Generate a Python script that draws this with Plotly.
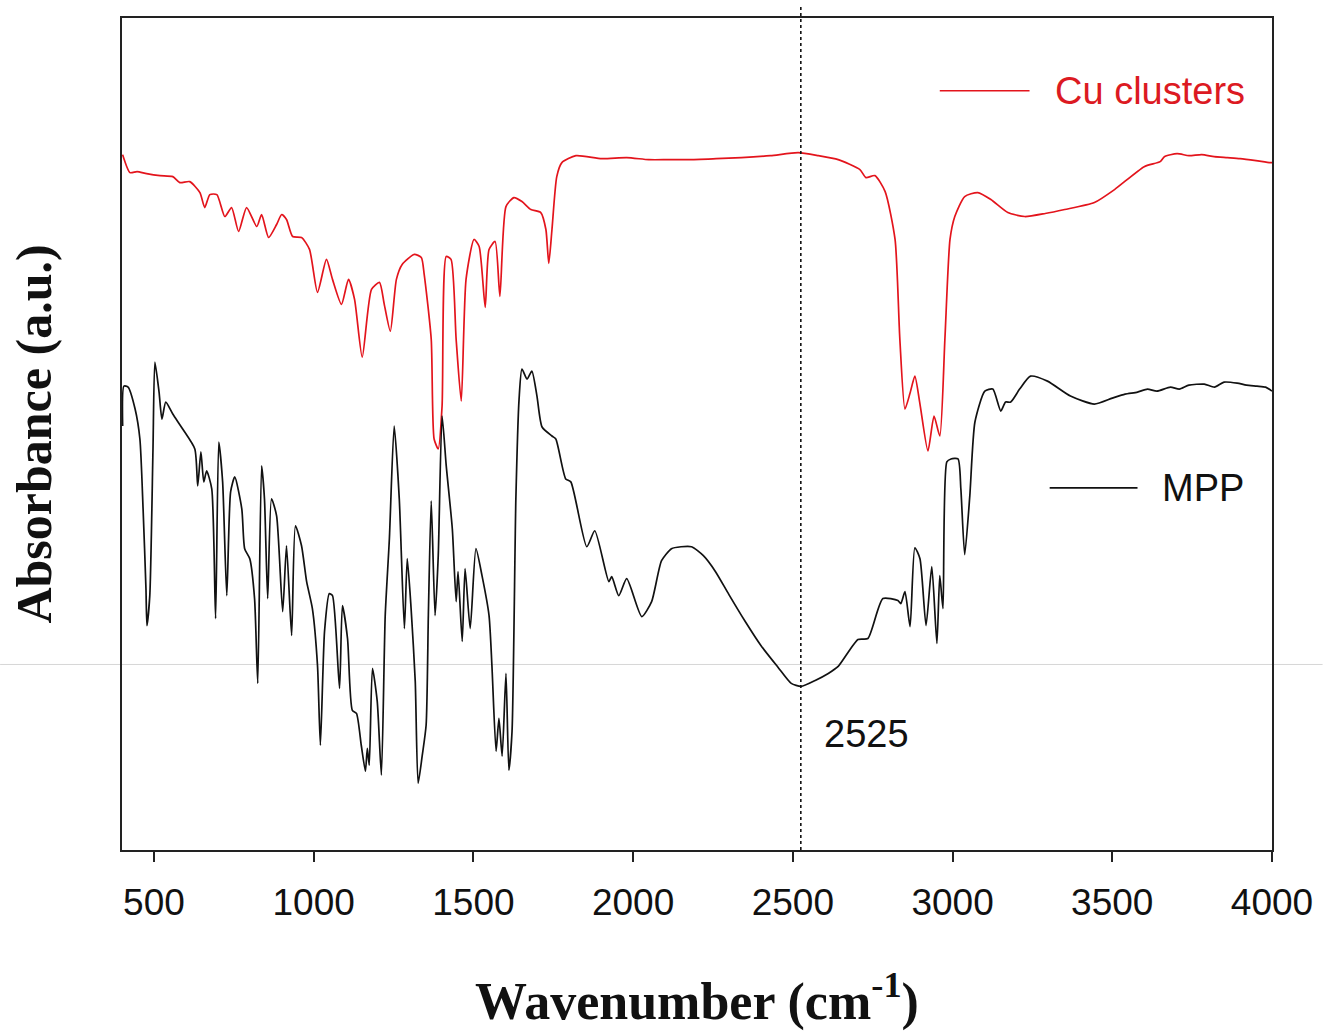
import plotly.graph_objects as go

# ---- Cu clusters (red) spectrum ----
cu_wn = [402, 425, 447, 477, 519, 559, 581, 612, 644, 659, 675, 697, 722, 743, 765, 790,
         822, 837, 859, 884, 900, 915, 934, 962, 987, 1012, 1040, 1059, 1087, 1109, 1128,
         1152, 1181, 1206, 1221, 1240, 1259, 1277, 1315, 1337, 1346, 1368, 1377, 1390,
         1402, 1415, 1430, 1446, 1462, 1477, 1502, 1518, 1537, 1549, 1568, 1583, 1602,
         1627, 1652, 1680, 1711, 1727, 1736, 1746, 1761, 1777, 1821, 1902, 1980, 2049,
         2110, 2173, 2260, 2339, 2430, 2517, 2580, 2642, 2710, 2729, 2757, 2789, 2820,
         2835, 2851, 2867, 2882, 2898, 2923, 2942, 2960, 2976, 2992, 3007, 3038, 3079,
         3120, 3173, 3226, 3290, 3351, 3444, 3507, 3600, 3650, 3663, 3703, 3740, 3780,
         3819, 3860, 3900, 3950, 3994, 4000]
cu_abs = [6.97, 6.79, 6.80, 6.78, 6.76, 6.75, 6.69, 6.70, 6.59, 6.44, 6.57, 6.57, 6.35, 6.44,
          6.20, 6.44, 6.25, 6.37, 6.14, 6.27, 6.37, 6.32, 6.15, 6.14, 6.02, 5.59, 5.92, 5.72,
          5.47, 5.72, 5.52, 4.94, 5.62, 5.69, 5.47, 5.20, 5.72, 5.87, 5.97, 5.94, 5.77, 5.12,
          4.12, 4.02, 4.45, 5.95, 5.92, 5.12, 4.50, 5.72, 6.12, 6.05, 5.44, 6.02, 6.10, 5.55,
          6.45, 6.54, 6.50, 6.42, 6.39, 6.22, 5.88, 6.22, 6.75, 6.89, 6.96, 6.93, 6.94, 6.92,
          6.92, 6.92, 6.93, 6.94, 6.96, 6.99, 6.96, 6.92, 6.82, 6.74, 6.76, 6.60, 6.12, 5.12,
          4.42, 4.58, 4.75, 4.47, 4.00, 4.35, 4.15, 5.12, 6.12, 6.35, 6.55, 6.59, 6.52, 6.39,
          6.35, 6.38, 6.42, 6.49, 6.62, 6.85, 6.90, 6.95, 6.98, 6.96, 6.97, 6.95, 6.94, 6.93,
          6.91, 6.89, 6.89]

# ---- MPP (black) spectrum ----
mpp_wn = [402, 406, 419, 441, 456, 466, 475, 478, 487, 497, 503, 516, 525, 537, 559, 590,
          628, 637, 647, 656, 665, 681, 693, 703, 715, 728, 740, 753, 775, 784, 800, 815,
          825, 837, 846, 856, 868, 884, 903, 915, 931, 943, 962, 978, 996, 1012, 1021, 1034,
          1049, 1059, 1081, 1090, 1106, 1121, 1134, 1149, 1162, 1168, 1174, 1184, 1199,
          1212, 1224, 1237, 1252, 1268, 1284, 1293, 1305, 1318, 1327, 1340, 1352, 1359,
          1368, 1380, 1390, 1402, 1415, 1434, 1446, 1452, 1465, 1474, 1490, 1508, 1527,
          1549, 1558, 1571, 1580, 1590, 1602, 1611, 1621, 1633, 1643, 1652, 1668, 1683,
          1699, 1715, 1746, 1758, 1789, 1805, 1855, 1880, 1924, 1933, 1955, 1980, 2027,
          2058, 2089, 2120, 2150, 2183, 2220, 2258, 2300, 2351, 2400, 2454, 2495, 2526,
          2570, 2611, 2642, 2704, 2735, 2782, 2829, 2838, 2851, 2867, 2882, 2898, 2917,
          2935, 2951, 2960, 2970, 2982, 2995, 3017, 3026, 3038, 3054, 3070, 3101, 3126,
          3151, 3166, 3182, 3210, 3244, 3297, 3369, 3444, 3500, 3540, 3579, 3610, 3640,
          3682, 3710, 3740, 3788, 3820, 3850, 3891, 3920, 3953, 3980, 4000]
mpp_abs = [4.25, 4.65, 4.64, 4.42, 4.12, 3.42, 2.62, 2.25, 2.55, 4.02, 4.89, 4.59, 4.32, 4.49,
           4.37, 4.22, 4.02, 3.65, 3.99, 3.69, 3.80, 3.62, 2.32, 4.09, 3.69, 2.55, 3.59, 3.74,
           3.42, 3.02, 2.92, 2.52, 1.67, 3.85, 3.52, 2.52, 3.52, 3.35, 2.39, 3.05, 2.15, 3.25,
           3.05, 2.69, 2.42, 1.85, 1.05, 2.19, 2.57, 2.55, 1.62, 2.45, 2.12, 1.40, 1.37, 1.05,
           0.79, 1.02, 0.85, 1.82, 1.49, 0.75, 2.35, 3.12, 4.25, 3.52, 2.22, 2.92, 2.42, 1.69,
           0.67, 0.95, 1.25, 2.35, 3.50, 2.35, 2.95, 4.35, 3.85, 3.22, 2.49, 2.79, 2.09, 2.82,
           2.22, 3.02, 2.75, 2.35, 1.85, 0.99, 1.32, 0.94, 1.77, 0.80, 1.19, 3.52, 4.52, 4.82,
           4.72, 4.80, 4.55, 4.24, 4.15, 4.12, 3.72, 3.69, 3.04, 3.20, 2.69, 2.74, 2.55, 2.72,
           2.34, 2.49, 2.90, 3.02, 3.04, 3.04, 2.95, 2.79, 2.56, 2.29, 2.05, 1.83, 1.67, 1.64,
           1.70, 1.77, 1.84, 2.11, 2.12, 2.52, 2.50, 2.47, 2.59, 2.24, 3.03, 2.92, 2.25,
           2.84, 2.07, 2.75, 2.42, 3.89, 3.92, 3.92, 3.62, 2.96, 3.55, 4.29, 4.60, 4.62,
           4.40, 4.49, 4.49, 4.62, 4.75, 4.70, 4.55, 4.47, 4.53, 4.57, 4.59, 4.62, 4.60,
           4.64, 4.62, 4.66, 4.67, 4.64, 4.69, 4.68, 4.66, 4.65, 4.64, 4.60]

x_ticks = [500, 1000, 1500, 2000, 2500, 3000, 3500, 4000]
marker_wn = 2525
marker_label = "2525"

fig = go.Figure()
fig.add_trace(go.Scatter(x=cu_wn, y=cu_abs, mode="lines", name="Cu clusters",
                         line=dict(color="#e3141c", width=1.7, shape="spline", smoothing=0.6),
                         showlegend=False))
fig.add_trace(go.Scatter(x=mpp_wn, y=mpp_abs, mode="lines", name="MPP",
                         line=dict(color="#111111", width=1.7, shape="spline", smoothing=0.6),
                         showlegend=False))

# dotted marker line
fig.add_shape(type="line", xref="x", yref="paper", x0=marker_wn, x1=marker_wn,
              y0=0, y1=1.016, line=dict(color="#111111", width=1.6, dash="dot"))
# faint scan line artifact
fig.add_shape(type="line", xref="paper", yref="paper", x0=-0.106, x1=1.044,
              y0=0.223, y1=0.223, line=dict(color="#d6d6d6", width=1), layer="below")

# legend-like labels
fig.add_shape(type="line", xref="x", yref="y", x0=2960, x1=3241, y0=7.61, y1=7.61,
              line=dict(color="#e3141c", width=1.6))
fig.add_annotation(x=3313, y=7.61, xref="x", yref="y", text="Cu clusters", showarrow=False,
                   xanchor="left", yanchor="middle",
                   font=dict(family="Liberation Sans, Arial", size=38, color="#dc1a22"))
fig.add_shape(type="line", xref="x", yref="y", x0=3304, x1=3579, y0=3.63, y1=3.63,
              line=dict(color="#111111", width=1.6))
fig.add_annotation(x=3650, y=3.63, xref="x", yref="y", text="MPP", showarrow=False,
                   xanchor="left", yanchor="middle",
                   font=dict(family="Liberation Sans, Arial", size=38, color="#111111"))
fig.add_annotation(x=2592, y=1.16, xref="x", yref="y", text=marker_label, showarrow=False,
                   xanchor="left", yanchor="middle",
                   font=dict(family="Liberation Sans, Arial", size=38, color="#111111"))

fig.update_layout(
    width=1325, height=1032,
    margin=dict(l=122, r=50, t=18, b=180),
    paper_bgcolor="white", plot_bgcolor="white",
    showlegend=False,
)
fig.update_xaxes(
    range=[400, 4000], tickvals=x_ticks, ticktext=[str(v) for v in x_ticks],
    ticks="outside", ticklen=10, tickwidth=1.5, tickcolor="#222",
    ticklabelstandoff=9,
    showline=True, linecolor="#222", linewidth=1.8, mirror=True,
    showgrid=False, zeroline=False,
    tickfont=dict(family="Liberation Sans, Arial", size=37, color="#111"),
    title=dict(text="<b>Wavenumber (cm<sup>-1</sup>)</b>", standoff=60,
               font=dict(family="Liberation Serif, Times New Roman", size=52, color="#111")),
)
fig.update_yaxes(
    range=[0, 8.34], showticklabels=False, ticks="",
    showline=True, linecolor="#222", linewidth=1.8, mirror=True,
    showgrid=False, zeroline=False,
    title=dict(text="<b>Absorbance (a.u.)</b>", standoff=53,
               font=dict(family="Liberation Serif, Times New Roman", size=50, color="#111")),
)

fig.write_html("out.html")
